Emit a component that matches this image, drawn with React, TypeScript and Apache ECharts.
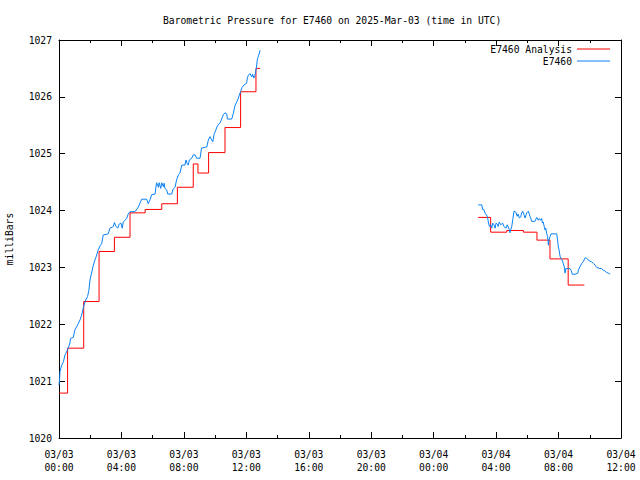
import { useEffect, useRef } from 'react';
import * as echarts from 'echarts';

// Time is minutes after 2025-03-03 00:00 UTC
const analysisMinutes1 = [0, 33, 95, 154, 213, 273, 331, 395, 455, 516, 534, 575, 638, 698, 757, 773];
const analysisValues1 = [1020.79, 1021.58, 1022.40, 1023.28, 1023.53, 1023.96, 1024.02, 1024.12, 1024.41, 1024.82, 1024.66, 1025.02, 1025.46, 1026.09, 1026.50, 1026.50];
const analysisMinutes2 = [1611, 1659, 1721, 1785, 1837, 1887, 1957, 2019];
const analysisValues2 = [1023.88, 1023.62, 1023.65, 1023.62, 1023.48, 1023.15, 1022.69, 1022.69];

const stationMinutes1 = [0, 2, 4, 10, 17, 23, 33, 42, 44, 55, 61, 72, 81, 87, 93, 100, 110, 115, 119, 126, 132, 138, 142, 151, 158, 164, 170, 189, 196, 209, 213, 218, 226, 231, 238, 243, 247, 260, 266, 273, 292, 305, 311, 318, 337, 343, 350, 356, 369, 375, 382, 385, 391, 395, 401, 404, 407, 414, 418, 433, 439, 446, 452, 459, 465, 472, 484, 488, 493, 497, 501, 510, 516, 523, 529, 542, 548, 568, 574, 580, 587, 591, 596, 603, 607, 612, 619, 625, 631, 638, 645, 647, 664, 670, 673, 676, 683, 688, 693, 698, 703, 711, 721, 724, 728, 734, 741, 744, 749, 753, 757, 760, 762, 766, 770, 773];
const stationValues1 = [1020.93, 1021.02, 1021.17, 1021.28, 1021.34, 1021.46, 1021.55, 1021.67, 1021.75, 1021.77, 1021.90, 1021.99, 1022.08, 1022.16, 1022.28, 1022.40, 1022.49, 1022.60, 1022.78, 1022.92, 1023.04, 1023.13, 1023.18, 1023.31, 1023.38, 1023.42, 1023.57, 1023.59, 1023.69, 1023.72, 1023.79, 1023.73, 1023.69, 1023.76, 1023.78, 1023.69, 1023.80, 1023.86, 1023.94, 1023.98, 1023.98, 1024.06, 1024.13, 1024.20, 1024.20, 1024.12, 1024.19, 1024.28, 1024.29, 1024.49, 1024.41, 1024.49, 1024.39, 1024.49, 1024.42, 1024.48, 1024.39, 1024.36, 1024.29, 1024.29, 1024.38, 1024.41, 1024.54, 1024.63, 1024.66, 1024.80, 1024.80, 1024.89, 1024.82, 1024.80, 1024.89, 1024.92, 1024.98, 1024.98, 1024.92, 1024.92, 1025.10, 1025.12, 1025.24, 1025.30, 1025.24, 1025.21, 1025.34, 1025.42, 1025.47, 1025.51, 1025.54, 1025.61, 1025.68, 1025.72, 1025.70, 1025.61, 1025.61, 1025.71, 1025.77, 1025.84, 1025.91, 1025.96, 1026.03, 1026.09, 1026.16, 1026.21, 1026.24, 1026.33, 1026.38, 1026.41, 1026.35, 1026.40, 1026.33, 1026.38, 1026.47, 1026.56, 1026.65, 1026.71, 1026.77, 1026.82];

const stationMinutes2 = [1611, 1625, 1628, 1633, 1637, 1646, 1650, 1654, 1659, 1663, 1667, 1672, 1676, 1680, 1685, 1688, 1692, 1698, 1705, 1710, 1718, 1723, 1731, 1733, 1740, 1744, 1749, 1756, 1761, 1765, 1769, 1775, 1778, 1782, 1787, 1791, 1798, 1804, 1810, 1817, 1829, 1836, 1842, 1846, 1851, 1855, 1858, 1861, 1865, 1868, 1871, 1874, 1878, 1881, 1883, 1887, 1891, 1913, 1917, 1919, 1922, 1926, 1929, 1934, 1938, 1942, 1945, 1948, 1957, 1964, 1968, 1973, 1983, 1994, 1996, 2002, 2009, 2015, 2022, 2028, 2034, 2041, 2047, 2054, 2060, 2067, 2079, 2086, 2092, 2098, 2105, 2111, 2118];
const stationValues2 = [1024.10, 1024.10, 1024.02, 1024.02, 1023.96, 1023.90, 1023.81, 1023.72, 1023.75, 1023.69, 1023.78, 1023.75, 1023.69, 1023.78, 1023.76, 1023.72, 1023.80, 1023.75, 1023.78, 1023.72, 1023.69, 1023.75, 1023.66, 1023.61, 1023.72, 1023.84, 1023.99, 1023.97, 1023.90, 1023.94, 1023.87, 1023.89, 1023.96, 1023.99, 1023.93, 1023.87, 1023.96, 1023.99, 1023.90, 1023.81, 1023.81, 1023.88, 1023.83, 1023.86, 1023.83, 1023.86, 1023.78, 1023.80, 1023.72, 1023.66, 1023.69, 1023.60, 1023.54, 1023.39, 1023.48, 1023.54, 1023.59, 1023.59, 1023.45, 1023.36, 1023.31, 1023.19, 1023.16, 1023.13, 1023.07, 1023.01, 1022.90, 1022.98, 1022.98, 1022.98, 1022.95, 1022.88, 1022.88, 1022.90, 1022.95, 1023.01, 1023.07, 1023.10, 1023.17, 1023.16, 1023.13, 1023.11, 1023.10, 1023.07, 1023.04, 1023.00, 1022.98, 1022.98, 1022.95, 1022.94, 1022.91, 1022.90, 1022.88];

const titleText = 'Barometric Pressure for E7460 on 2025-Mar-03 (time in UTC)';
const seriesNames = ['E7460 Analysis', 'E7460'];
const seriesColors = ['#ff0000', '#0a80f5'];
const yLabel = 'milliBars';

const FONT = "'DejaVu Sans Mono', monospace";
const FS = 9.7;

function pairs(m: number[], v: number[]) {
  return m.map((t, i) => [t, v[i]]);
}

function pad(n: number) {
  return n < 10 ? '0' + n : '' + n;
}

function xLabel(v: number) {
  const day = 3 + Math.floor(v / 1440);
  const h = Math.floor((v % 1440) / 60);
  return '03/' + pad(day) + '\n' + pad(h) + ':00';
}

export default function App() {
  const ref = useRef<HTMLDivElement>(null);
  useEffect(() => {
    const chart = echarts.init(ref.current!, null, { renderer: 'svg' });
    const axisLine = { show: true, onZero: false, lineStyle: { color: '#000', width: 1 } };
    const xCommon = {
      type: 'value' as const,
      min: 0,
      max: 2160,
      interval: 240,
      axisLine,
      axisTick: { show: true, inside: true, length: 6, lineStyle: { color: '#000' } },
      minorTick: { show: true, splitNumber: 2, length: 3, lineStyle: { color: '#000' } },
      splitLine: { show: false },
    };
    const yCommon = {
      type: 'value' as const,
      min: 1020,
      max: 1027,
      interval: 1,
      axisLine,
      axisTick: { show: true, inside: true, length: 6, lineStyle: { color: '#000' } },
      splitLine: { show: false },
    };
    const mkLine = (idx: number, data: number[][], step: boolean) => ({
      name: seriesNames[idx],
      type: 'line',
      step: step ? 'end' : false,
      symbol: 'none',
      lineStyle: { color: seriesColors[idx], width: 1 },
      itemStyle: { color: seriesColors[idx] },
      data,
    });
    chart.setOption({
      animation: false,
      backgroundColor: '#fff',
      title: {
        text: titleText,
        left: 158,
        top: 10,
        textStyle: { fontFamily: FONT, fontSize: FS, fontWeight: 'normal', color: '#000' },
      },
      legend: {
        orient: 'vertical',
        right: 25,
        top: 39,
        align: 'right',
        icon: 'rect',
        itemWidth: 33,
        itemHeight: 1,
        itemGap: 2,
        data: seriesNames,
        textStyle: { fontFamily: FONT, fontSize: FS, color: '#000' },
      },
      grid: { left: 59, right: 19, top: 40, bottom: 42, outerBoundsMode: 'none', containLabel: false },
      xAxis: [
        {
          ...xCommon,
          position: 'bottom',
          axisLabel: {
            show: true,
            formatter: xLabel,
            fontFamily: FONT,
            fontSize: FS,
            color: '#000',
            lineHeight: 13,
            margin: 10,
          },
        },
        { ...xCommon, position: 'top', axisLabel: { show: false } },
      ],
      yAxis: [
        {
          ...yCommon,
          position: 'left',
          name: yLabel,
          nameLocation: 'middle',
          nameRotate: 90,
          nameGap: 45,
          nameTextStyle: { fontFamily: FONT, fontSize: FS, color: '#000' },
          axisLabel: {
            fontFamily: FONT,
            fontSize: FS,
            color: '#000',
            margin: 7,
            formatter: (v: number) => String(v),
          },
        },
        { ...yCommon, position: 'right', axisLabel: { show: false } },
      ],
      series: [
        mkLine(0, pairs(analysisMinutes1, analysisValues1), true),
        mkLine(0, pairs(analysisMinutes2, analysisValues2), true),
        mkLine(1, pairs(stationMinutes1, stationValues1), false),
        mkLine(1, pairs(stationMinutes2, stationValues2), false),
      ],
    });
    return () => chart.dispose();
  }, []);
  return (
    <div
      ref={ref}
      style={{ position: 'absolute', left: 0, top: 0, width: 640, height: 480, background: '#fff' }}
    />
  );
}
